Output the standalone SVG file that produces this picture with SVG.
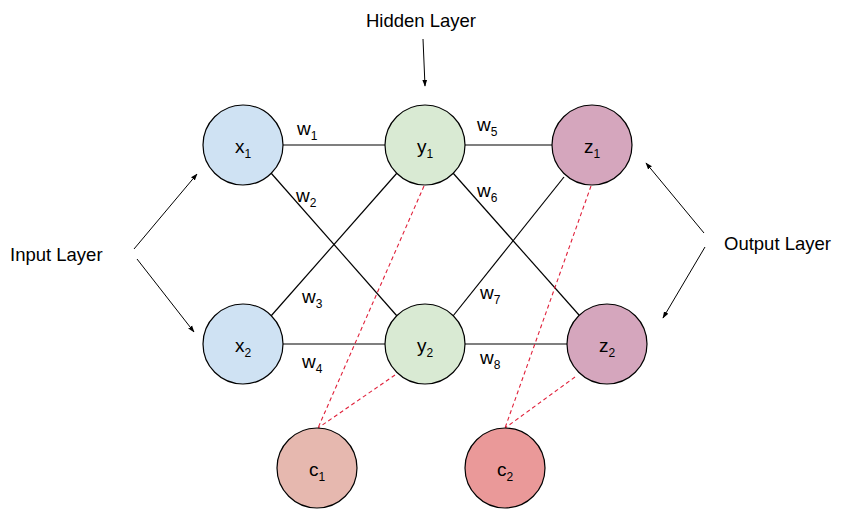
<svg xmlns="http://www.w3.org/2000/svg" width="852" height="532" viewBox="0 0 852 532">
<style>
text{font-family:"Liberation Sans",Arial,sans-serif;font-size:18.5px;fill:#000}
.nl{font-size:19px}
.sub{font-size:12px}
.node{stroke:#000;stroke-width:1.2}
.edge{stroke:#000;stroke-width:1.2;fill:none}
.dash{stroke:#e0203a;stroke-width:1.1;stroke-dasharray:4 3;fill:none}
.arr{stroke:#000;stroke-width:1;fill:none;marker-end:url(#ah)}
</style>
<defs>
<marker id="ah" viewBox="0 0 10 10" refX="9" refY="5" markerWidth="7" markerHeight="7" orient="auto" markerUnits="userSpaceOnUse">
<path d="M0,1.5 L10,5 L0,8.5 Z" fill="#000"/>
</marker>
</defs>
<rect width="852" height="532" fill="#fff"/>
<g id="connectors">
<line class="edge" x1="283" y1="145" x2="385" y2="145"/>
<line class="edge" x1="465" y1="145" x2="552" y2="145"/>
<line class="edge" x1="283" y1="344" x2="385" y2="344"/>
<line class="edge" x1="465" y1="344" x2="567" y2="344"/>
<line class="edge" x1="271" y1="173" x2="397" y2="316"/>
<line class="edge" x1="271" y1="316" x2="397" y2="173"/>
<line class="edge" x1="453" y1="173" x2="579" y2="315"/>
<line class="edge" x1="453" y1="316" x2="564" y2="177"/>
<line class="dash" x1="424" y1="186" x2="318" y2="428"/>
<line class="dash" x1="395" y1="375" x2="318" y2="428"/>
<line class="dash" x1="591" y1="186" x2="505" y2="428"/>
<line class="dash" x1="575" y1="377" x2="505" y2="428"/>
<line class="arr" x1="134" y1="249" x2="197" y2="174"/>
<line class="arr" x1="137" y1="259" x2="194" y2="332"/>
<line class="arr" x1="704" y1="233" x2="646" y2="163"/>
<line class="arr" x1="705" y1="247" x2="663" y2="318"/>
<line class="arr" x1="423" y1="39" x2="425" y2="86"/>
</g>
<g id="x1"><circle class="node" cx="243" cy="145" r="40" fill="#cfe2f3"/><text class="nl" x="243" y="153" text-anchor="middle">x<tspan class="sub" dy="5">1</tspan></text></g>
<g id="x2"><circle class="node" cx="243" cy="344" r="40" fill="#cfe2f3"/><text class="nl" x="243" y="352" text-anchor="middle">x<tspan class="sub" dy="5">2</tspan></text></g>
<g id="y1"><circle class="node" cx="425" cy="145" r="40" fill="#d9ead3"/><text class="nl" x="425" y="153" text-anchor="middle">y<tspan class="sub" dy="5">1</tspan></text></g>
<g id="y2"><circle class="node" cx="425" cy="344" r="40" fill="#d9ead3"/><text class="nl" x="425" y="352" text-anchor="middle">y<tspan class="sub" dy="5">2</tspan></text></g>
<g id="z1"><circle class="node" cx="592" cy="145" r="40" fill="#d5a6bd"/><text class="nl" x="592" y="153" text-anchor="middle">z<tspan class="sub" dy="5">1</tspan></text></g>
<g id="z2"><circle class="node" cx="607" cy="344" r="40" fill="#d5a6bd"/><text class="nl" x="607" y="352" text-anchor="middle">z<tspan class="sub" dy="5">2</tspan></text></g>
<g id="c1"><circle class="node" cx="317" cy="468" r="40" fill="#e6b8af"/><text class="nl" x="317" y="476" text-anchor="middle">c<tspan class="sub" dy="5">1</tspan></text></g>
<g id="c2"><circle class="node" cx="505" cy="468" r="40" fill="#ea9999"/><text class="nl" x="505" y="476" text-anchor="middle">c<tspan class="sub" dy="5">2</tspan></text></g>
<g id="weights">
<text class="nl" x="297" y="135">w<tspan class="sub" dy="5">1</tspan></text>
<text class="nl" x="296" y="202">w<tspan class="sub" dy="5">2</tspan></text>
<text class="nl" x="302" y="303">w<tspan class="sub" dy="5">3</tspan></text>
<text class="nl" x="302" y="368">w<tspan class="sub" dy="5">4</tspan></text>
<text class="nl" x="477" y="131">w<tspan class="sub" dy="5">5</tspan></text>
<text class="nl" x="477" y="197">w<tspan class="sub" dy="5">6</tspan></text>
<text class="nl" x="480" y="299">w<tspan class="sub" dy="5">7</tspan></text>
<text class="nl" x="480" y="364">w<tspan class="sub" dy="5">8</tspan></text>
</g>
<g id="labels">
<text x="421" y="27" text-anchor="middle">Hidden Layer</text>
<text x="10" y="261">Input Layer</text>
<text x="724" y="250">Output Layer</text>
</g>
</svg>
